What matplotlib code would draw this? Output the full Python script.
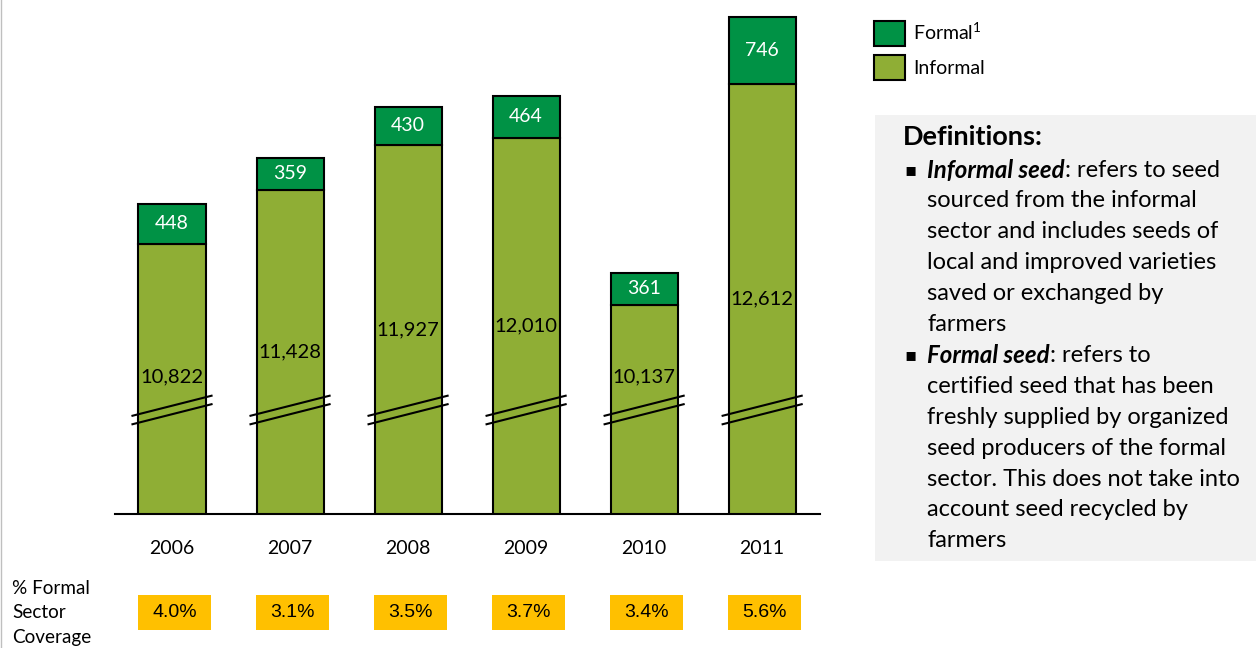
import matplotlib.pyplot as plt
import matplotlib.transforms as mtransforms
from matplotlib.patches import Patch, Rectangle
from matplotlib.text import Annotation
import numpy as np

# data
years = ["2006", "2007", "2008", "2009", "2010", "2011"]
informal = [10822, 11428, 11927, 12010, 10137, 12612]
formal = [448, 359, 430, 464, 361, 746]
coverage = [4.0, 3.1, 3.5, 3.7, 3.4, 5.6]

formal_color = "#009245"
informal_color = "#8FAE35"
coverage_color = "#FFC000"

FONT = "Lato"
plt.rcParams["font.family"] = [FONT, "DejaVu Sans"]
plt.rcParams["mathtext.fontset"] = "custom"
plt.rcParams["mathtext.rm"] = FONT

W, H = 1256, 648
fig = plt.figure(figsize=(W / 100, H / 100), dpi=100)

# broken value axis: bars start far below the visible baseline
y_base = 7800
y_top = y_base + 514 / 0.0894
ax = fig.add_axes([115 / W, 134 / H, 705 / W, 514 / H])
ax.set_xlim(-0.483, 5.49)
ax.set_ylim(y_base, y_top)
ax.patch.set_alpha(0)

x = np.arange(len(years))
bw = 0.568
ax.bar(x, informal, bw, color=informal_color, edgecolor="black", linewidth=1.5, label="Informal")
ax.bar(x, formal, bw, bottom=informal, color=formal_color, edgecolor="black", linewidth=1.5, label="Formal")

for s in ["left", "right", "top"]:
    ax.spines[s].set_visible(False)
ax.spines["bottom"].set_linewidth(1.5)
ax.set_yticks([])
ax.set_xticks(x)
ax.set_xticklabels(years, fontsize=14)
ax.tick_params(axis="x", length=0, pad=19)

for i in range(len(years)):
    # formal value in the middle of the dark green segment
    ax.text(x[i], informal[i] + formal[i] / 2, f"{formal[i]:,}", ha="center", va="center",
            color="white", fontsize=14)
    # informal value in the middle of the visible part, kept above the break
    ymid = max((y_base + informal[i]) / 2, 9330)
    ax.text(x[i], ymid, f"{informal[i]:,}", ha="center", va="center", color="black", fontsize=14.5)
    # axis-break marks
    yb = 9011
    for off in (0, -95):
        ax.plot([x[i] - 0.335, x[i] + 0.335], [yb - 112 + off, yb + 112 + off],
                color="black", lw=1.5, clip_on=False, zorder=3)

# coverage row below the chart
trans = mtransforms.blended_transform_factory(ax.transData, fig.transFigure)
for i, c in enumerate(coverage):
    ax.add_patch(Rectangle((x[i] + 0.02 - 0.31, 18 / H), 0.62, 35 / H, transform=trans,
                           facecolor=coverage_color, edgecolor="none", clip_on=False))
    ax.text(x[i] + 0.02, 35.5 / H, f"{c:.1f}%", transform=trans, ha="center", va="center",
            fontsize=14, family="Liberation Sans")

for k, line in enumerate(["% Formal", "Sector", "Coverage"]):
    fig.text(12 / W, 1 - (589 + 24 * k) / H, line, ha="left", va="center", fontsize=13.6)

# legend
handles = [Patch(facecolor=formal_color, edgecolor="black", linewidth=1.5),
           Patch(facecolor=informal_color, edgecolor="black", linewidth=1.5)]
fig.legend(handles, ["Formal$^{1}$", "Informal"], loc="upper left", bbox_to_anchor=(874 / W, 1 - 21 / H),
           frameon=False, fontsize=14, handlelength=1.6, handleheight=1.55, handletextpad=0.4,
           labelspacing=0.5, borderpad=0, borderaxespad=0)

# definitions box
fig.patches.append(Rectangle((875 / W, 1 - 561 / H), (W - 875) / W, (561 - 115) / H,
                             transform=fig.transFigure, facecolor="#F2F2F2", edgecolor="none", zorder=-1))
fig.text(903 / W, 1 - 137 / H, "Definitions:", fontsize=19.5, fontweight="bold", va="center")

def_lines = [
    ("Informal seed", ": refers to seed"),
    "sourced from the informal",
    "sector and includes seeds of",
    "local and improved varieties",
    "saved or exchanged by",
    "farmers",
    ("Formal seed", ": refers to"),
    "certified seed that has been",
    "freshly supplied by organized",
    "seed producers of the formal",
    "sector. This does not take into",
    "account seed recycled by",
    "farmers",
]
for k, line in enumerate(def_lines):
    yc = 1 - (170 + 30.9 * k) / H
    if isinstance(line, tuple):
        fig.text(904 / W, yc, "▪", fontsize=13, va="center", family="DejaVu Sans")
        t = fig.text(927 / W, yc, line[0], fontsize=17.3, fontweight="bold", fontstyle="italic", va="center")
        rest = Annotation(line[1], xy=(1, 0.5), xycoords=t, va="center", ha="left", fontsize=17,
                          annotation_clip=False)
        fig.add_artist(rest)
    else:
        fig.text(927 / W, yc, line, fontsize=17, va="center")

# thin frame line on the left edge
fig.add_artist(plt.Line2D([0.5 / W, 0.5 / W], [0, 1], transform=fig.transFigure, color="#BFBFBF", lw=1))

fig.savefig("out.png", dpi=100)
